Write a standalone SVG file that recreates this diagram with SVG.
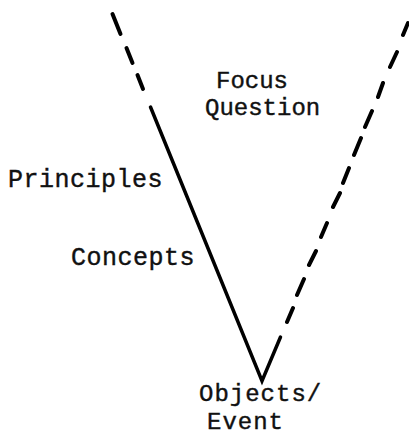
<svg xmlns="http://www.w3.org/2000/svg" width="409" height="435" viewBox="0 0 409 435">
<style>
.lbl{font-family:"Liberation Mono","DejaVu Sans Mono",monospace;font-size:24px;fill:#111;stroke:#111;stroke-width:0.4}
.w{font-size:25px;letter-spacing:0.5px}
.o{letter-spacing:1px}
.ln{stroke:#000;stroke-width:4;stroke-linecap:round;fill:none}
.sl{stroke:#000;stroke-width:3.5;stroke-linecap:round;fill:none}
</style>
<rect width="409" height="435" fill="#fff"/>
<g id="connectors">
<path class="sl" d="M150.5 107 L262 381 L280.5 337"/>
<path class="ln" d="M112.5 14 L120.5 34 M126.5 48 L132.5 63 M137.5 75 L143 89"/>
<path class="ln" d="M287 322 L293 308 M297 295 L304 279 M309 265 L316 251 M321 237 L327 223 M333 207 L340 193 M343 183 L349 168 M354 155 L361 138 M365 127 L372 111 M378 97 L383 83 M390 67 L397 52 M403 35 L408 23"/>
</g>
<g id="focus-question">
<text class="lbl" x="216" y="88">Focus</text>
<text class="lbl" x="205" y="115">Question</text>
</g>
<g id="principles"><text class="lbl w" x="8" y="187">Principles</text></g>
<g id="concepts"><text class="lbl w" x="71" y="265">Concepts</text></g>
<g id="objects-event">
<text class="lbl o" x="199" y="401">Objects/</text>
<text class="lbl o" x="207" y="429">Event</text>
</g>
</svg>
